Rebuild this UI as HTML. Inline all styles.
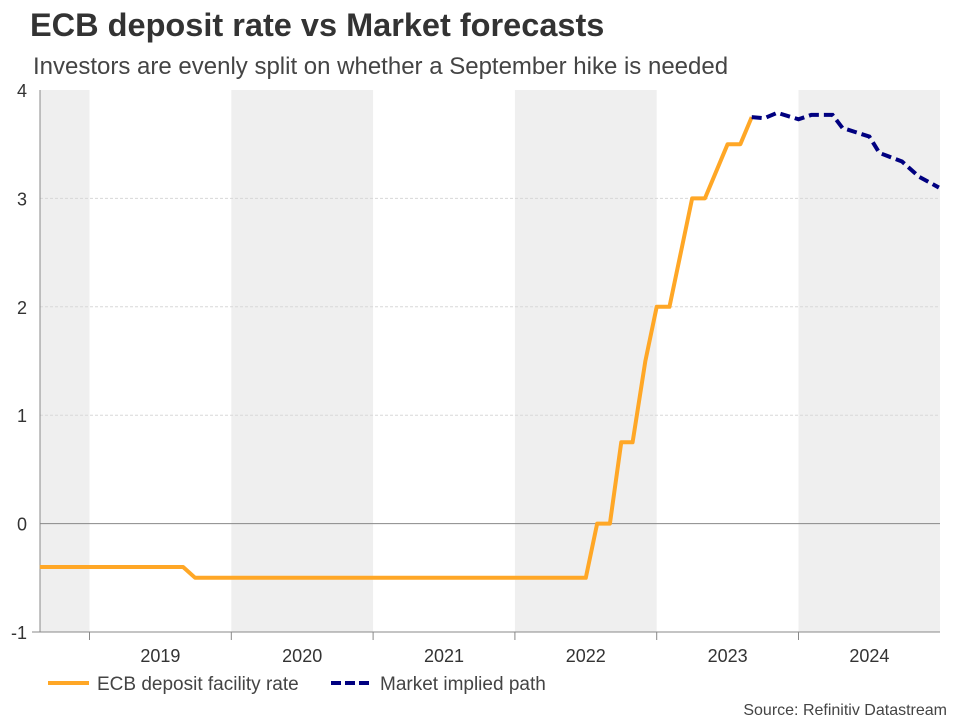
<!DOCTYPE html>
<html><head><meta charset="utf-8"><style>
body{margin:0;background:#fff;font-family:"Liberation Sans",Arial,sans-serif}
svg{display:block}
</style></head><body>
<svg width="960" height="720" id="c">
<text x="30" y="36" font-size="32.5" font-weight="bold" fill="#333">ECB deposit rate vs Market forecasts</text>
<text x="33" y="74" font-size="24" fill="#444">Investors are evenly split on whether a September hike is needed</text>
<g id="bands"></g><g id="grid"></g><g id="axes"></g><g id="series"></g>
<g>
<line x1="48" y1="683" x2="89" y2="683" stroke="#FFA726" stroke-width="4"/>
<text x="97" y="690" font-size="19" fill="#444">ECB deposit facility rate</text>
<line x1="331" y1="683" x2="372" y2="683" stroke="#000080" stroke-width="4" stroke-dasharray="10,4"/>
<text x="380" y="690" font-size="19" fill="#444">Market implied path</text>
</g>
<text x="947" y="715" font-size="16" fill="#444" text-anchor="end">Source: Refinitiv Datastream</text>
</svg>
<script>
const yTicks=[-1,0,1,2,3,4];
const years=[2019,2020,2021,2022,2023,2024];
const ecbT=[2018.65,2019.66,2019.745,2022.5,2022.58,2022.67,2022.75,2022.83,2022.92,2023.0,2023.09,2023.17,2023.25,2023.34,2023.5,2023.59,2023.67];
const ecbV=[-0.4,-0.4,-0.5,-0.5,0,0,0.75,0.75,1.5,2,2,2.5,3,3,3.5,3.5,3.75];
const mktT=[2023.67,2023.76,2023.85,2024.0,2024.09,2024.24,2024.31,2024.5,2024.57,2024.73,2024.85,2024.99];
const mktV=[3.75,3.74,3.79,3.73,3.77,3.77,3.65,3.57,3.42,3.34,3.2,3.1];
const NS='http://www.w3.org/2000/svg';
const X0=40,X1=940,Y0=90,Y1=632;
function x(t){return 89.5+(t-2019)*141.8;}
function y(v){return Y1-(v+1)*(Y1-Y0)/5;}
function mk(tag,at,p){const e=document.createElementNS(NS,tag);for(const k in at)e.setAttribute(k,at[k]);p.appendChild(e);return e;}
const bands=document.getElementById('bands'),grid=document.getElementById('grid'),axes=document.getElementById('axes'),series=document.getElementById('series');
[2018,2020,2022,2024].forEach(yr=>{
 const a=Math.max(X0,x(yr)),b=Math.min(X1,x(yr+1));
 const r=mk('rect',{x:a,y:Y0,width:b-a,height:Y1-Y0,fill:'#efefef'},bands);
 
 
});
yTicks.forEach(v=>{
 if(v>-1&&v<4&&v!==0){const l=mk('line',{x1:X0,x2:X1,y1:y(v),y2:y(v),stroke:'#d8d8d8','stroke-dasharray':'3,2'},grid);
 
 }
 const t=mk('text',{x:27,y:y(v)+7,'font-size':18,fill:'#333','text-anchor':'end'},axes);t.textContent=v;
 
 
});
const z=mk('line',{x1:X0,x2:X1,y1:y(0),y2:y(0),stroke:'#888','stroke-width':1},grid);


const ya=mk('line',{x1:X0,x2:X0,y1:Y0,y2:Y1,stroke:'#888'},axes);


const xa=mk('line',{x1:X0-8,x2:X1,y1:Y1,y2:Y1,stroke:'#888'},axes);


years.forEach(yr=>{
 const tk=mk('line',{x1:x(yr),x2:x(yr),y1:Y1,y2:Y1+8,stroke:'#888'},axes);
 
 
 const t=mk('text',{x:x(yr+0.5),y:Y1+30,'font-size':18,fill:'#333','text-anchor':'middle'},axes);t.textContent=yr;
 
 
});
const p1=mk('polyline',{points:ecbT.map((t,i)=>x(t)+','+y(ecbV[i])).join(' '),fill:'none',stroke:'#FFA726','stroke-width':4,'stroke-linejoin':'round'},series);


const p2=mk('polyline',{points:mktT.map((t,i)=>x(t)+','+y(mktV[i])).join(' '),fill:'none',stroke:'#000080','stroke-width':4,'stroke-dasharray':'10,5'},series);


</script>
</body></html>
